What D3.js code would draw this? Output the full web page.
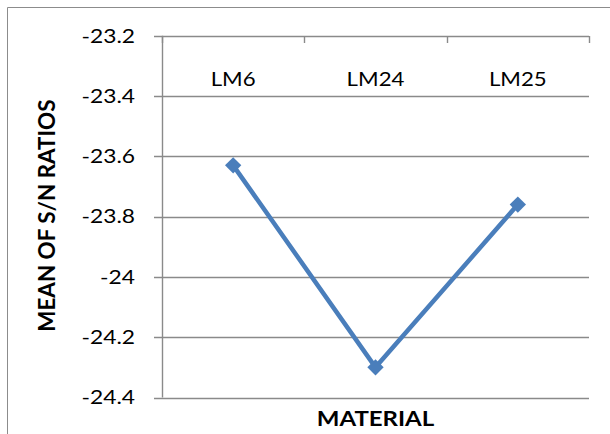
<!DOCTYPE html>
<html><head><meta charset="utf-8">
<script src="https://cdn.jsdelivr.net/npm/d3@7"></script>
<style>body{margin:0;background:#fff}svg{display:block}</style>
</head><body>
<script>
const categories = ["LM6", "LM24", "LM25"];
const values = [-23.63, -24.30, -23.76];
const yTicks = [-24.4, -24.2, -24, -23.8, -23.6, -23.4, -23.2];
const yTitle = "MEAN OF S/N RATIOS";
const xTitle = "MATERIAL";

(function () {
const W = 610, H = 434;
const svg = d3.select("body").append("svg").attr("width", W).attr("height", H);
const font = "Lato, 'Open Sans', sans-serif";
const sx = 1.2; // horizontal stretch of text as in the reference

// outer border
svg.append("path").attr("d", `M7.5,${H} V7.5 H${W}`).attr("fill", "none").attr("stroke", "#8c8c8c").attr("stroke-width", 1);

const pLeft = 162, pRight = 589, pTop = 35.7, pBottom = 397.5;
const x = d3.scaleBand().domain(categories).range([pLeft, pRight]).padding(0);
const y = d3.scaleLinear().domain([-24.4, -23.2]).range([pBottom, pTop]);

const grid = "#8a8a8a";
// gridlines
svg.append("g").selectAll("line").data(yTicks).join("line")
  .attr("x1", pLeft - 8).attr("x2", pRight)
  .attr("y1", d => Math.round(y(d)) + 0.5).attr("y2", d => Math.round(y(d)) + 0.5)
  .attr("stroke", grid).attr("stroke-width", 1.4);
// y axis line
svg.append("line").attr("x1", pLeft + 0.5).attr("x2", pLeft + 0.5).attr("y1", pTop).attr("y2", pBottom)
  .attr("stroke", grid).attr("stroke-width", 1.4);
// top category axis ticks
const tickXs = categories.map(c => x(c)).concat([pRight]);
svg.append("g").selectAll("line").data(tickXs).join("line")
  .attr("x1", d => Math.round(d) + 0.5).attr("x2", d => Math.round(d) + 0.5)
  .attr("y1", Math.round(y(-23.2))).attr("y2", Math.round(y(-23.2)) + 7)
  .attr("stroke", grid).attr("stroke-width", 1.4);

// y tick labels
svg.append("g").selectAll("text").data(yTicks).join("text")
  .attr("transform", d => `translate(135,${y(d)}) scale(${sx},1)`).attr("dy", "0.36em")
  .attr("text-anchor", "end").attr("font-family", font).attr("font-size", 19).attr("fill", "#000")
  .text(d => String(d));

// category labels
svg.append("g").selectAll("text").data(categories).join("text")
  .attr("transform", d => `translate(${x(d) + x.bandwidth() / 2},86) scale(1.17,1)`)
  .attr("text-anchor", "middle").attr("font-family", font).attr("font-size", 19).attr("fill", "#000")
  .text(d => d);

// line
const lineColor = "#4a7ebb";
const pts = categories.map((c, i) => [x(c) + x.bandwidth() / 2, y(values[i])]);
svg.append("path").attr("d", d3.line()(pts)).attr("fill", "none")
  .attr("stroke", lineColor).attr("stroke-width", 4.5).attr("stroke-linejoin", "round");
svg.append("g").selectAll("path").data(pts).join("path")
  .attr("transform", d => `translate(${d[0]},${d[1]})`)
  .attr("d", d3.symbol().type(d3.symbolDiamond2).size(170))
  .attr("fill", lineColor);

// titles
svg.append("text").attr("transform", `translate(55,${(pTop + pBottom) / 2 - 1}) rotate(-90) scale(1.12,1.1)`)
  .attr("text-anchor", "middle").attr("font-family", font).attr("font-weight", "bold")
  .attr("font-size", 20).attr("fill", "#000").text(yTitle);
svg.append("text").attr("transform", `translate(${(pLeft + pRight) / 2},426) scale(${sx},1)`)
  .attr("text-anchor", "middle").attr("font-family", font).attr("font-weight", "bold")
  .attr("font-size", 20).attr("fill", "#000").text(xTitle);
})();
</script>
</body></html>
